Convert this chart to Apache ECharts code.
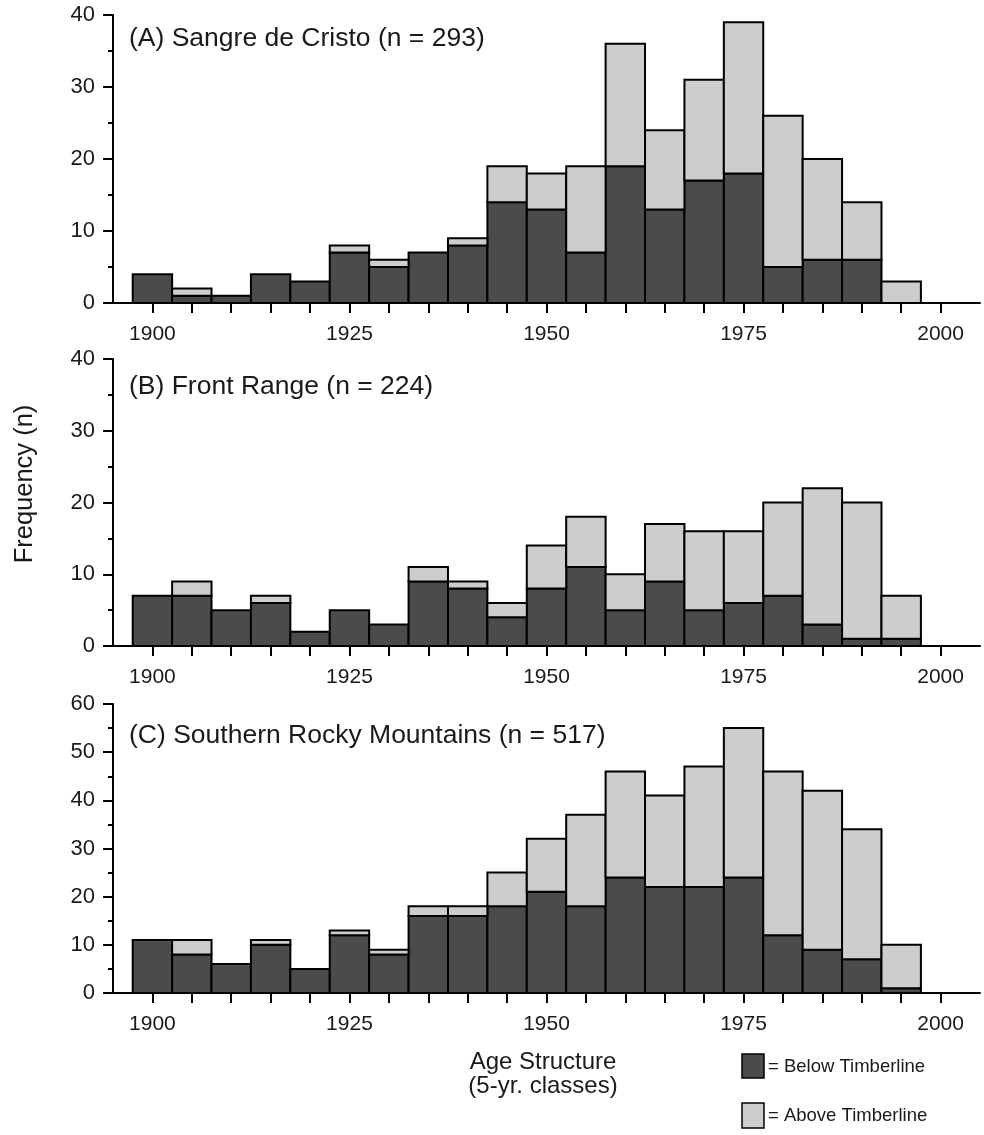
<!DOCTYPE html>
<html>
<head>
<meta charset="utf-8">
<script src="https://cdn.jsdelivr.net/npm/echarts@6/dist/echarts.min.js"></script>
<style>
html,body{margin:0;padding:0;background:#fff;}
#chart{width:984px;height:1135px;}
</style>
</head>
<body>
<div id="chart"></div>
<script>
const years = [1900,1905,1910,1915,1920,1925,1930,1935,1940,1945,1950,1955,1960,1965,1970,1975,1980,1985,1990,1995];
const xTickValues = [1900,1905,1910,1915,1920,1925,1930,1935,1940,1945,1950,1955,1960,1965,1970,1975,1980,1985,1990,1995,2000];
const xTickLabels = [1900,1925,1950,1975,2000];

const sangreBelow = [4,1,1,4,3,7,5,7,8,14,13,7,19,13,17,18,5,6,6,0];
const sangreAbove = [0,1,0,0,0,1,1,0,1,5,5,12,17,11,14,21,21,14,8,3];
const frontBelow  = [7,7,5,6,2,5,3,9,8,4,8,11,5,9,5,6,7,3,1,1];
const frontAbove  = [0,2,0,1,0,0,0,2,1,2,6,7,5,8,11,10,13,19,19,6];
const srmBelow    = [11,8,6,10,5,12,8,16,16,18,21,18,24,22,22,24,12,9,7,1];
const srmAbove    = [0,3,0,1,0,1,1,2,2,7,11,19,22,19,25,31,34,33,27,9];

const panelTitles = ['(A) Sangre de Cristo (n = 293)', '(B) Front Range (n = 224)', '(C) Southern Rocky Mountains (n = 517)'];
const yMax = [40, 40, 60];
const legendLabels = ['= Below Timberline', '= Above Timberline'];

const DARK = '#4b4b4b', LIGHT = '#cdcdcd';
const FONT = 'Liberation Sans, Arial, Helvetica, sans-serif';
const TEXT = '#1a1a1a';
const BIN = 5;

const panels = [
  {below: sangreBelow, above: sangreAbove},
  {below: frontBelow, above: frontAbove},
  {below: srmBelow, above: srmAbove}
];
const gridPos = [
  {top: 15, height: 288, titleY: 39},
  {top: 359, height: 287, titleY: 387},
  {top: 704, height: 289, titleY: 736}
];

function renderBar(params, api) {
  const x = api.value(0), lo = api.value(1), hi = api.value(2);
  if (hi <= lo) return null;
  const p0 = api.coord([x - BIN / 2, lo]);
  const p1 = api.coord([x + BIN / 2, hi]);
  return {
    type: 'rect',
    shape: {x: p0[0], y: p1[1], width: p1[0] - p0[0], height: p0[1] - p1[1]},
    style: {fill: api.visual('color'), stroke: '#000', lineWidth: 2}
  };
}

const grids = [], xAxes = [], yAxes = [], series = [];
panels.forEach((p, i) => {
  grids.push({left: 113, right: 4, top: gridPos[i].top, height: gridPos[i].height, containLabel: false});
  xAxes.push({
    type: 'value', gridIndex: i, min: 1895, max: 2005,
    axisLine: {show: true, onZero: false, lineStyle: {color: '#000', width: 2}},
    axisTick: {show: true, inside: false, length: 10, customValues: xTickValues, lineStyle: {color: '#000', width: 2}},
    axisLabel: {show: true, customValues: xTickLabels, formatter: v => String(v), margin: 21, color: TEXT, fontSize: 21, fontFamily: FONT},
    splitLine: {show: false}
  });
  yAxes.push({
    type: 'value', gridIndex: i, min: 0, max: yMax[i], interval: 10,
    axisLine: {show: true, lineStyle: {color: '#000', width: 2}},
    axisTick: {show: true, inside: false, length: 10, lineStyle: {color: '#000', width: 2}},
    minorTick: {show: true, splitNumber: 2, length: 5, lineStyle: {color: '#000', width: 2}},
    axisLabel: {margin: 18, color: TEXT, fontSize: 22, fontFamily: FONT},
    splitLine: {show: false},
    minorSplitLine: {show: false}
  });
  const belowData = years.map((y, k) => [y, 0, p.below[k]]);
  const aboveData = years.map((y, k) => [y, p.below[k], p.below[k] + p.above[k]]);
  series.push({
    type: 'custom', name: 'Below Timberline', xAxisIndex: i, yAxisIndex: i,
    renderItem: renderBar, data: belowData, encode: {x: 0, y: [1, 2]},
    itemStyle: {color: DARK}, silent: true
  });
  series.push({
    type: 'custom', name: 'Above Timberline', xAxisIndex: i, yAxisIndex: i,
    renderItem: renderBar, data: aboveData, encode: {x: 0, y: [1, 2]},
    itemStyle: {color: LIGHT}, silent: true
  });
});

const titleGraphics = panelTitles.map((t, i) => ({
  type: 'text', x: 129, y: gridPos[i].titleY,
  style: {text: t, fontSize: 26.5, fontFamily: FONT, fill: TEXT, align: 'left', verticalAlign: 'middle'}
}));

const legendGraphics = [
  {type: 'rect', shape: {x: 742, y: 1054, width: 22, height: 24}, style: {fill: DARK, stroke: '#000', lineWidth: 1.5}},
  {type: 'rect', shape: {x: 742, y: 1103, width: 22, height: 25}, style: {fill: LIGHT, stroke: '#000', lineWidth: 1.5}},
  {type: 'text', x: 768, y: 1067, style: {text: legendLabels[0], fontSize: 18.5, fontFamily: FONT, fill: TEXT, align: 'left', verticalAlign: 'middle'}},
  {type: 'text', x: 768, y: 1116, style: {text: legendLabels[1], fontSize: 18.5, fontFamily: FONT, fill: TEXT, align: 'left', verticalAlign: 'middle'}}
];

const chart = echarts.init(document.getElementById('chart'), null, {renderer: 'canvas'});
chart.setOption({
  animation: false,
  backgroundColor: '#fff',
  grid: grids,
  xAxis: xAxes,
  yAxis: yAxes,
  series: series,
  graphic: titleGraphics.concat(legendGraphics, [
    {
      type: 'text', x: 25, y: 484, rotation: Math.PI / 2,
      style: {text: 'Frequency (n)', fontSize: 25.5, fontFamily: FONT, fill: TEXT, align: 'center', verticalAlign: 'middle'}
    },
    {
      type: 'text', x: 543, y: 1062,
      style: {text: 'Age Structure', fontSize: 24, fontFamily: FONT, fill: TEXT, align: 'center', verticalAlign: 'middle'}
    },
    {
      type: 'text', x: 543, y: 1086,
      style: {text: '(5-yr. classes)', fontSize: 24, fontFamily: FONT, fill: TEXT, align: 'center', verticalAlign: 'middle'}
    }
  ])
});
</script>
</body>
</html>
